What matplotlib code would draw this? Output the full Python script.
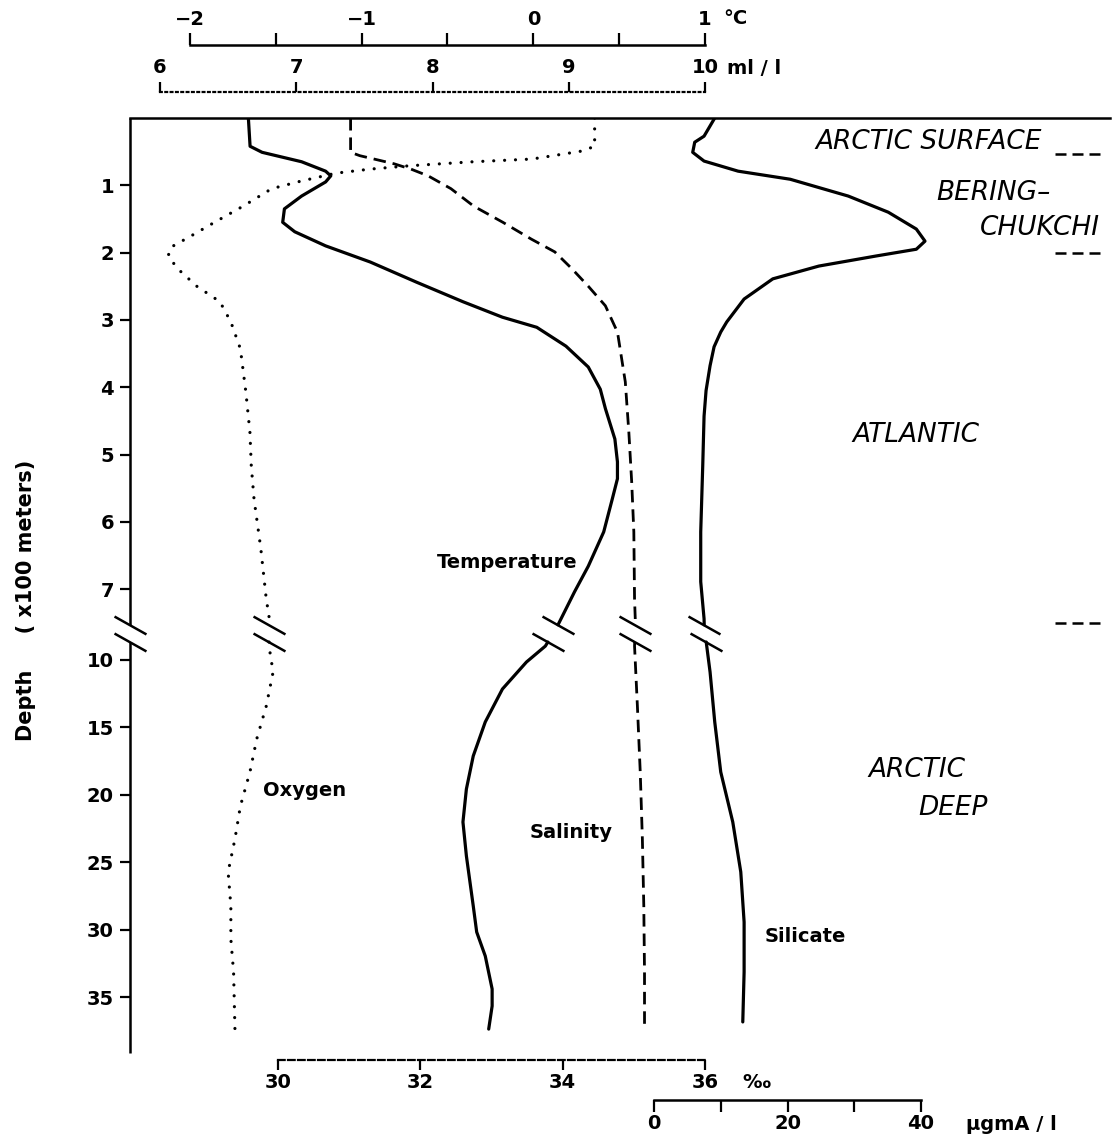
import numpy as np
import matplotlib
matplotlib.use("Agg")
import matplotlib.pyplot as plt
from matplotlib.path import Path
from matplotlib.transforms import blended_transform_factory

plt.rcParams["font.family"] = ["DejaVu Sans"]

# ---- profile data (depth in units of 100 m) ----
temp_depth = [0.0, 0.42, 0.51, 0.65, 0.79, 0.86, 0.95, 1.16, 1.35, 1.55, 1.69, 1.90,
              2.14, 2.44, 2.73, 2.96, 3.11, 3.39, 3.70, 4.03, 4.32, 4.77, 5.11, 5.36,
              5.66, 6.15, 6.66, 7.04, 7.55,
              8.99, 10.17, 12.17, 14.61, 17.13, 19.58, 22.02, 24.53, 28.24, 30.17,
              31.95, 34.39, 35.65, 37.36]
temp_vals = [-1.66, -1.65, -1.58, -1.35, -1.21, -1.18, -1.21, -1.35, -1.45, -1.46, -1.39,
             -1.21, -0.95, -0.68, -0.41, -0.18, 0.02, 0.19, 0.32, 0.39, 0.42, 0.475, 0.49,
             0.49, 0.46, 0.41, 0.32, 0.24, 0.14,
             0.07, -0.04, -0.18, -0.28, -0.35, -0.39, -0.41, -0.39, -0.35, -0.33,
             -0.28, -0.24, -0.24, -0.26]

sal_depth = [0.0, 0.51, 0.56, 0.68, 0.76, 0.86, 1.05, 1.31, 1.55, 1.80, 1.99, 2.24,
             2.50, 2.79, 3.09, 3.18, 3.92, 4.67, 5.41, 6.15, 7.15, 7.44,
             8.99, 13.43, 18.32, 23.28, 28.24, 33.13, 37.2]
sal_vals = [31.02, 31.02, 31.15, 31.63, 31.87, 32.11, 32.43, 32.75, 33.16, 33.56, 33.89,
            34.13, 34.36, 34.60, 34.73, 34.77, 34.88, 34.93, 34.97, 35.00, 35.01, 35.02,
            35.01, 35.05, 35.09, 35.12, 35.14, 35.15, 35.15]

oxy_depth = [0.0, 0.42, 0.49, 0.61, 0.65, 0.71, 0.76, 0.82, 0.94, 1.05, 1.31, 1.55,
             1.75, 1.92, 2.05, 2.24, 2.50, 2.73, 3.03, 3.43, 4.07, 4.67, 5.17, 5.66,
             6.40, 7.15, 7.40, 8.99, 10.91, 13.43, 15.87, 18.32, 20.84, 23.28, 25.72,
             28.24, 30.69, 33.13, 37.36]
oxy_vals = [9.19, 9.19, 9.10, 8.73, 8.30, 7.83, 7.54, 7.29, 7.03, 6.82, 6.61, 6.40,
            6.23, 6.08, 6.06, 6.13, 6.27, 6.44, 6.52, 6.59, 6.63, 6.66, 6.67, 6.69,
            6.74, 6.78, 6.80, 6.80, 6.83, 6.78, 6.71, 6.66, 6.59, 6.55, 6.50,
            6.52, 6.52, 6.54, 6.55]

sil_depth = [0.0, 0.27, 0.36, 0.51, 0.64, 0.79, 0.91, 1.16, 1.40, 1.65, 1.83, 1.95,
             2.05, 2.20, 2.39, 2.69, 3.03, 3.18, 3.40, 3.68, 4.05, 4.43, 5.17, 6.15,
             6.89, 7.44,
             8.99, 10.91, 14.61, 18.32, 22.02, 25.72, 29.43, 33.13, 36.83]
sil_vals = [9.1, 7.5, 6.1, 5.8, 7.5, 12.6, 20.4, 29.1, 35.1, 39.3, 40.6, 39.3,
            33.3, 24.7, 17.8, 13.5, 10.9, 10.0, 9.0, 8.4, 7.8, 7.5, 7.3, 7.0,
            7.0, 7.5,
            7.9, 8.4, 9.1, 10.0, 11.8, 13.0, 13.5, 13.5, 13.3]

depth_ticks = [1, 2, 3, 4, 5, 6, 7, 10, 15, 20, 25, 30, 35]
depth_tick_labels = ["1", "2", "3", "4", "5", "6", "7", "10", "15", "20", "25", "30", "35"]
temp_ticks = [-2, -1, 0, 1]
temp_tick_labels = ["\u22122", "\u22121", "0", "1"]
temp_minor = [-1.5, -0.5, 0.5]
oxy_ticks = [6, 7, 8, 9, 10]
oxy_tick_labels = ["6", "7", "8", "9", "10"]
sal_ticks = [30, 32, 34, 36]
sal_tick_labels = ["30", "32", "34", "36"]
sil_ticks = [0, 10, 20, 30, 40]
sil_tick_labels = ["0", "", "20", "", "40"]

layer_bounds = [0.53, 2.0, 7.5]
layers = [("ARCTIC SURFACE", 815, 142, "left"),
          ("BERING\u2013", 936, 193, "left"),
          ("CHUKCHI", 1100, 228, "right"),
          ("ATLANTIC", 852, 435, "left"),
          ("ARCTIC", 868, 770, "left"),
          ("DEEP", 918, 808, "left")]

# ---- figure geometry ----
W, H = 1119, 1144
fig = plt.figure(figsize=(W / 100, H / 100), dpi=100)
PT = 0.72  # points per pixel at 100 dpi


def fpos(x, y):
    return x / W, 1 - y / H


ax_left, ax_right, ax_top, ax_bot = 130, 1110, 118, 1053
ax = fig.add_axes([ax_left / W, (H - ax_bot) / H, (ax_right - ax_left) / W,
                   (ax_bot - ax_top) / H])

# broken depth scale: 0-7.56 stretched, deeper part compressed
B, K1, K2 = 7.56, 67.3, 13.5


def fwd(d):
    d = np.asarray(d, dtype=float)
    return np.where(d <= B, d * K1, B * K1 + (d - B) * K2)


def inv(u):
    u = np.asarray(u, dtype=float)
    return np.where(u <= B * K1, u / K1, B + (u - B * K1) / K2)


ax.set_yscale("function", functions=(fwd, inv))
D_BOT = B + ((ax_bot - ax_top) - B * K1) / K2
ax.set_ylim(D_BOT, 0)
ax.set_xlim(0, 1)
ax.set_xticks([])

BRK_A, BRK_B = 7.53, 8.69

LW_AX = 1.8
for s in ("right", "bottom", "left"):
    ax.spines[s].set_visible(False)
ax.spines["top"].set_linewidth(LW_AX)
ax.patch.set_visible(False)

ytr = blended_transform_factory(ax.transAxes, ax.transData)
ax.plot([0, 0], [0, BRK_A], color="black", lw=LW_AX, transform=ytr, clip_on=False,
        solid_capstyle="butt")
ax.plot([0, 0], [BRK_B, D_BOT], color="black", lw=LW_AX, transform=ytr, clip_on=False,
        solid_capstyle="butt")

ax.set_yticks(depth_ticks)
ax.set_yticklabels(depth_tick_labels, fontsize=14, fontweight="bold")
ax.tick_params(axis="y", direction="out", length=10 * PT, width=1.6, pad=6 * PT)
ax.minorticks_off()

brk = Path([(-1.0, 0.56), (1.0, -0.56)])
ax.plot([0, 0], [BRK_A, BRK_B], ls="none", marker=brk, ms=23, mew=1.8, mec="black",
        mfc="none", transform=ytr, clip_on=False)

# layer boundaries and names
for d in layer_bounds:
    ax.plot([0.944, 0.99], [d, d], color="black", lw=1.8, ls=(0, (4.4, 2.4)),
            transform=ytr, clip_on=False)
for txt, x, y, ha in layers:
    fig.text(*fpos(x, y), txt, ha=ha, va="center", fontsize=19, style="italic")


def twin(xlo, xhi):
    t = ax.twiny()
    t.set_xlim(xlo, xhi)
    for s in t.spines.values():
        s.set_visible(False)
    t.patch.set_visible(False)
    return t


def px_lim(v0, p0, v1, p1):
    k = (p1 - p0) / (v1 - v0)
    return v0 + (ax_left - p0) / k, v0 + (ax_right - p0) / k


def split_plot(t, depth, vals, **kw):
    depth = np.asarray(depth, float)
    vals = np.asarray(vals, float)
    va = np.interp(BRK_A, depth, vals)
    vb = np.interp(BRK_B, depth, vals)
    up = depth < BRK_A
    lo = depth > BRK_B
    t.plot(np.r_[vals[up], va], np.r_[depth[up], BRK_A], color="black", **kw)
    t.plot(np.r_[vb, vals[lo]], np.r_[BRK_B, depth[lo]], color="black", **kw)
    t.plot([va, vb], [BRK_A, BRK_B], ls="none", marker=brk, ms=23, mew=1.8,
           mec="black", mfc="none", clip_on=False)


tick_font = dict(fontsize=14, fontweight="bold")

# temperature (top scale)
ax_t = twin(*px_lim(-2, 190, 1, 705))
sp = ax_t.spines["top"]
sp.set_visible(True)
sp.set_position(("outward", 73 * PT))
sp.set_bounds(-2, 1)
sp.set_linewidth(LW_AX)
ax_t.xaxis.tick_top()
ax_t.set_xticks(temp_ticks)
ax_t.set_xticklabels(temp_tick_labels, **tick_font)
ax_t.set_xticks(temp_minor, minor=True)
ax_t.tick_params(axis="x", which="both", direction="out", length=12 * PT, width=1.6,
                 pad=4 * PT, top=True, bottom=False, labeltop=True, labelbottom=False)
split_plot(ax_t, temp_depth, temp_vals, lw=2.3, solid_capstyle="round",
           solid_joinstyle="round")

# oxygen (second top scale, dotted)
ax_o = twin(*px_lim(6, 160, 10, 705))
sp = ax_o.spines["top"]
sp.set_visible(True)
sp.set_position(("outward", 26 * PT))
sp.set_bounds(6, 10)
sp.set_linewidth(1.6)
sp.set_linestyle((0, (0.8, 1.6)))
ax_o.xaxis.tick_top()
ax_o.set_xticks(oxy_ticks)
ax_o.set_xticklabels(oxy_tick_labels, **tick_font)
ax_o.tick_params(axis="x", which="both", direction="out", length=10 * PT, width=1.6,
                 pad=5 * PT, top=True, bottom=False, labeltop=True, labelbottom=False)
ax_o.minorticks_off()
split_plot(ax_o, oxy_depth, oxy_vals, lw=2.3, ls=(0, (0.01, 3.4)),
           dash_capstyle="round")

# salinity (bottom scale, dashed)
ax_s = twin(*px_lim(30, 278, 36, 705))
sp = ax_s.spines["bottom"]
sp.set_visible(True)
sp.set_position(("outward", 7 * PT))
sp.set_bounds(30, 36)
sp.set_linewidth(1.6)
sp.set_linestyle((0, (3, 1.5)))
ax_s.xaxis.tick_bottom()
ax_s.set_xticks(sal_ticks)
ax_s.set_xticklabels(sal_tick_labels, **tick_font)
ax_s.tick_params(axis="x", which="both", direction="out", length=10 * PT, width=1.6,
                 pad=3 * PT, top=False, bottom=True, labeltop=False, labelbottom=True)
ax_s.minorticks_off()
split_plot(ax_s, sal_depth, sal_vals, lw=2.0, ls=(0, (4.5, 2.5)))

# silicate (second bottom scale)
ax_si = twin(*px_lim(0, 654, 40, 921))
sp = ax_si.spines["bottom"]
sp.set_visible(True)
sp.set_position(("outward", 47 * PT))
sp.set_bounds(0, 40)
sp.set_linewidth(LW_AX)
ax_si.xaxis.tick_bottom()
ax_si.set_xticks(sil_ticks)
ax_si.set_xticklabels(sil_tick_labels, **tick_font)
ax_si.tick_params(axis="x", which="both", direction="out", length=12 * PT, width=1.6,
                  pad=2 * PT, top=False, bottom=True, labeltop=False, labelbottom=True)
ax_si.minorticks_off()
split_plot(ax_si, sil_depth, sil_vals, lw=2.3, solid_capstyle="round",
           solid_joinstyle="round")

# units
fig.text(*fpos(723, 19), "\u00b0C", ha="left", va="center", **tick_font)
fig.text(*fpos(727, 68), "ml / l", ha="left", va="center", **tick_font)
fig.text(*fpos(742, 1083), "\u2030", ha="left", va="center", **tick_font)
fig.text(*fpos(966, 1124), "\u03bcgmA / l", ha="left", va="center", **tick_font)

# curve names
lab = dict(fontsize=14, fontweight="bold", va="center")
fig.text(*fpos(437, 563), "Temperature", ha="left", **lab)
fig.text(*fpos(263, 790), "Oxygen", ha="left", **lab)
fig.text(*fpos(530, 832), "Salinity", ha="left", **lab)
fig.text(*fpos(765, 937), "Silicate", ha="left", **lab)

# depth axis title
fig.text(*fpos(26, 600), "Depth     ( x100 meters)", rotation=90, ha="center",
         va="center", fontsize=15, fontweight="bold")

fig.savefig("out.png", dpi=100)
